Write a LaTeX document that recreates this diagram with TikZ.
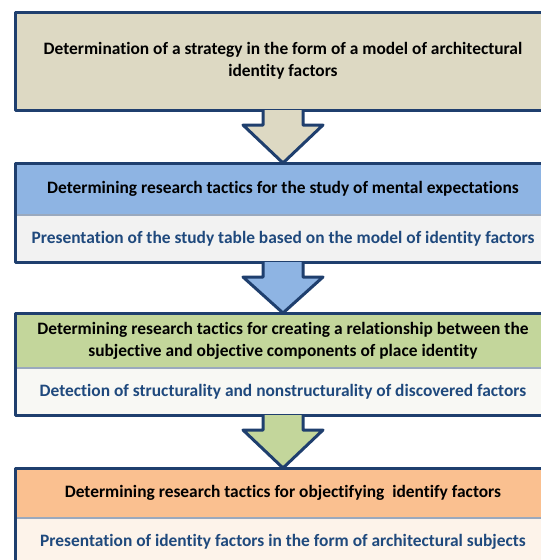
\documentclass[tikz,border=0pt]{standalone}
\usepackage{fontspec}
\setmainfont{Carlito}[Ligatures=NoCommon]
\usetikzlibrary{calc}
\definecolor{frameblue}{HTML}{1F3F6E}
\definecolor{textblue}{HTML}{1F497D}
\definecolor{stratfill}{HTML}{DDD9C3}
\definecolor{mentalfill}{HTML}{8EB4E3}
\definecolor{relfill}{HTML}{C3D69B}
\definecolor{objfill}{HTML}{FAC090}
\definecolor{bodygray}{HTML}{F2F2F2}
\definecolor{bodywhite}{HTML}{F8F8F4}
\definecolor{bodypeach}{HTML}{FDF3EA}
\tikzset{
    headbox/.style={inner sep=0pt,outer sep=0pt,minimum width=536pt,align=center,
        font=\fontsize{17.4}{22}\selectfont\bfseries},
    bodybox/.style={inner sep=0pt,outer sep=0pt,minimum width=536pt,align=center,
        text=textblue,font=\fontsize{17.4}{22}\selectfont\bfseries},
    frame/.style={draw=frameblue,line width=3pt,line join=round},
    divider/.style={draw=frameblue!45,line width=1.5pt},
}
% block arrow from the bottom of one box to the top of the next
\newcommand{\blockarrow}[3]{%
    \fill[#3] ($(#1.south)+(-20,0)$) -- ($(#1.south)+(-20,15)$) -- ($(#1.south)+(-40,15)$)
        -- (#2.north) -- ($(#1.south)+(40,15)$) -- ($(#1.south)+(20,15)$)
        -- ($(#1.south)+(20,0)$) -- cycle;
    \draw[frame] ($(#1.south)+(-20,0)$) -- ($(#1.south)+(-20,15)$) -- ($(#1.south)+(-40,15)$)
        -- (#2.north) -- ($(#1.south)+(40,15)$) -- ($(#1.south)+(20,15)$)
        -- ($(#1.south)+(20,0)$);
}
\begin{document}
\begin{tikzpicture}[x=1pt,y=-1pt]
\useasboundingbox (0,0) rectangle (541,560);
\clip (0,0) rectangle (541,560);

% box 1
\node[headbox,fill=stratfill,minimum height=98pt] (strat) at (283,61)
    {Determination of a strategy in the form of a model of architectural\\identity factors};
\draw[frame] (strat.north west) rectangle (strat.south east);

% box 2
\node[headbox,fill=mentalfill,minimum height=52pt] (mental) at (283,189)
    {Determining research tactics for the study of mental expectations};
\node[bodybox,fill=bodygray,minimum height=47pt] (table) at (283,238.5)
    {Presentation of the study table based on the model of identity factors};
\draw[divider] (table.north west) -- (table.north east);
\draw[frame] (mental.north west) rectangle (table.south east);

% box 3
\node[headbox,fill=relfill,minimum height=55pt] (relation) at (283,340.5)
    {Determining research tactics for creating a relationship between the\\subjective and objective components of place identity};
\node[bodybox,fill=bodywhite,minimum height=47pt] (detect) at (283,391.5)
    {Detection of structurality and nonstructurality of discovered factors};
\draw[divider] (detect.north west) -- (detect.north east);
\draw[frame] (relation.north west) rectangle (detect.south east);

% box 4
\node[headbox,fill=objfill,minimum height=50pt] (objective) at (283,493)
    {Determining research tactics for objectifying\ \ identify factors};
\node[bodybox,fill=bodypeach,minimum height=47pt] (subjects) at (283,541.5)
    {Presentation of identity factors in the form of architectural subjects};
\draw[divider] (subjects.north west) -- (subjects.north east);
\draw[frame] (objective.north west) rectangle (subjects.south east);

% arrows
\blockarrow{strat}{mental}{stratfill}
\blockarrow{table}{relation}{mentalfill}
\blockarrow{detect}{objective}{relfill}
\end{tikzpicture}
\end{document}
